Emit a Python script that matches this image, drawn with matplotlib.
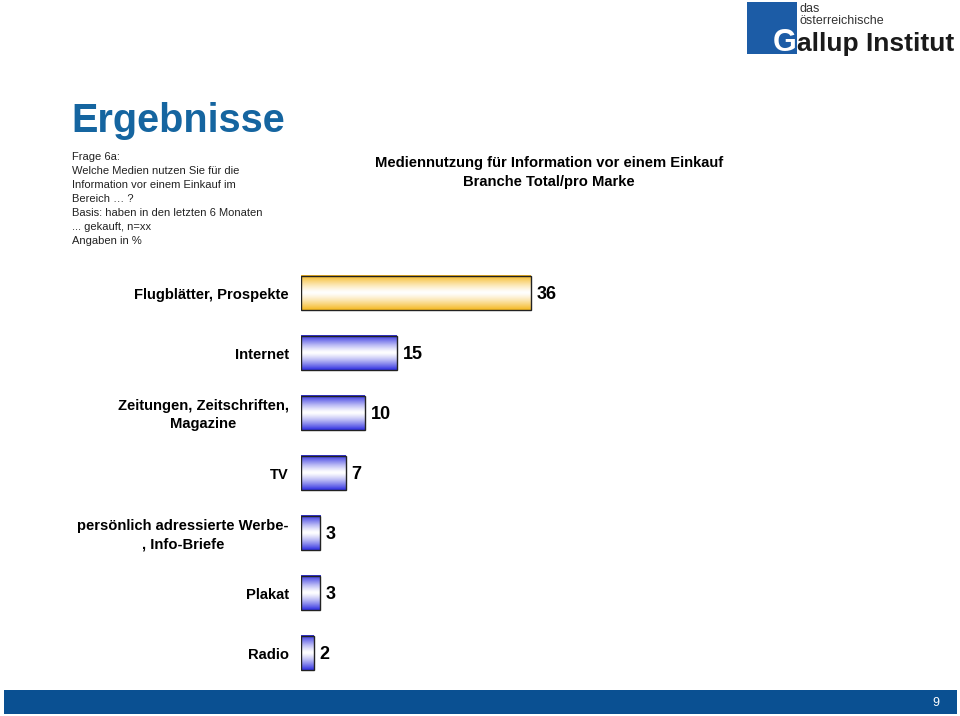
import numpy as np
import matplotlib
matplotlib.use("Agg")
import matplotlib.pyplot as plt
from matplotlib.patches import Rectangle
from matplotlib.colors import LinearSegmentedColormap

plt.rcParams['font.family'] = ['Liberation Sans', 'DejaVu Sans']

categories = ['Flugblätter, Prospekte', 'Internet', 'Zeitungen, Zeitschriften,\nMagazine',
              'TV', 'persönlich adressierte Werbe-\n, Info-Briefe', 'Plakat', 'Radio']
values = [36, 15, 10, 7, 3, 3, 2]
bar_colors = ['#f5b820', '#3030e0', '#3030e0', '#3030e0', '#3030e0', '#3030e0', '#3030e0']

question = ['Frage 6a:', 'Welche Medien nutzen Sie für die', 'Information vor einem Einkauf im',
            'Bereich \u2026 ?', 'Basis: haben in den letzten 6 Monaten', '... gekauft, n=xx', 'Angaben in %']

W, H = 960, 716
fig = plt.figure(figsize=(9.6, 7.16), dpi=100)

# header texts
fig.text(71 / W, 1 - 121 / H, 'Ergebnisse', fontsize=28.5, fontweight='bold', color='#1565a0',
         ha='left', va='center')
for i, line in enumerate(question):
    fig.text(72 / W, 1 - (157 + 14 * i) / H, line, fontsize=8, color='#222222', ha='left', va='center')

fig.text(549 / W, 1 - 163 / H, 'Mediennutzung für Information vor einem Einkauf',
         fontsize=10.6, fontweight='bold', ha='center', va='center')
fig.text(549 / W, 1 - 182 / H, 'Branche Total/pro Marke',
         fontsize=10.6, fontweight='bold', ha='center', va='center')

# logo
fig.patches.append(Rectangle((747 / W, 1 - 54 / H), 50 / W, 52 / H, transform=fig.transFigure,
                             facecolor='#1c5ca6', edgecolor='none'))
fig.text(800 / W, 1 - 9 / H, 'das', fontsize=9, color='#333333', ha='left', va='center')
fig.text(800 / W, 1 - 21 / H, 'österreichische', fontsize=9, color='#333333', ha='left', va='center')
fig.text(797 / W, 1 - 51 / H, 'G', fontsize=22, fontweight='bold', color='white', ha='right',
         va='baseline')
fig.text(797 / W, 1 - 51 / H, 'allup Institut', fontsize=19, fontweight='bold', color='#1a1a1a',
         ha='left', va='baseline')

# footer
fig.patches.append(Rectangle((4 / W, 1 - 714 / H), 953 / W, 24 / H, transform=fig.transFigure,
                             facecolor='#0a5092', edgecolor='none'))
fig.text(936 / W, 1 - 703 / H, '9', fontsize=9, color='white', ha='center', va='center')

# chart
ax = fig.add_axes([301 / W, 1 - 683 / H, 480 / W, 420 / H])
ax.axis('off')

y = np.arange(len(values))
bars = ax.barh(y, values, height=0.57, facecolor='none', edgecolor='#222222', linewidth=1.0, zorder=3)

grad = np.abs(np.linspace(-1, 1, 64))[:, None] ** 1.3
for bar, c, v, lab in zip(bars, bar_colors, values, categories):
    cmap = LinearSegmentedColormap.from_list('g', ['white', c])
    x0, y0, w, h = bar.get_x(), bar.get_y(), bar.get_width(), bar.get_height()
    ax.imshow(grad, cmap=cmap, vmin=0, vmax=1, aspect='auto', extent=(x0, x0 + w, y0 + h, y0),
              zorder=2, interpolation='bilinear')
    ax.text(x0 + w + 0.9, y0 + h / 2 + 0.03, str(v), fontsize=13, fontweight='bold', ha='left', va='center')
    ax.text(-1.9, y0 + h / 2 + 0.03, lab, fontsize=10.6, fontweight='bold', ha='right', va='center',
            multialignment='center', linespacing=1.4)

ax.set_xlim(0, 480 / (230 / 36))
ax.set_ylim(len(values) - 0.5, -0.5)

fig.savefig('out.png', dpi=100)
